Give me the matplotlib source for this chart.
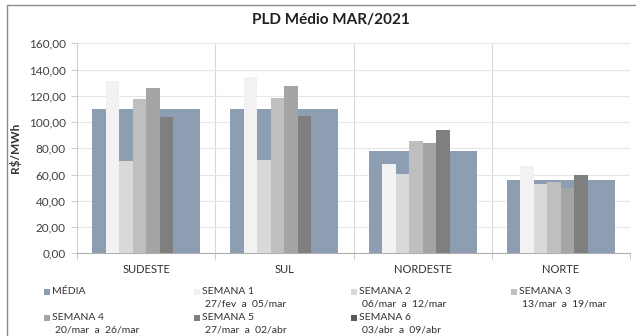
import numpy as np
import matplotlib
matplotlib.use("Agg")
import matplotlib.pyplot as plt
from matplotlib.patches import Rectangle

plt.rcParams['font.family'] = ['Lato', 'DejaVu Sans']

regions = ["SUDESTE", "SUL", "NORDESTE", "NORTE"]
media = [109.8, 110.0, 78.0, 55.5]
semana1 = [131.3, 134.1, 68.2, 66.5]
semana2 = [70.6, 70.9, 60.2, 52.6]
semana3 = [117.4, 118.4, 85.6, 54.3]
semana4 = [126.0, 127.3, 84.1, 50.0]
semana5 = [104.1, 104.6, 94.0, 59.4]
semana6 = [np.nan, np.nan, np.nan, np.nan]

weeks = [semana1, semana2, semana3, semana4, semana5, semana6]
week_names = ["SEMANA 1", "SEMANA 2", "SEMANA 3", "SEMANA 4", "SEMANA 5", "SEMANA 6"]
week_ranges = ["27/fev  a  05/mar", "06/mar  a  12/mar", "13/mar  a  19/mar",
               "20/mar  a  26/mar", "27/mar  a  02/abr", "03/abr  a  09/abr"]
yticks = [0, 20, 40, 60, 80, 100, 120, 140, 160]

media_color = "#8d9db2"
week_colors = ["#f2f2f2", "#d9d9d9", "#bfbfbf", "#a5a5a5", "#7f7f7f", "#595959"]

fig = plt.figure(figsize=(6.36, 3.36), dpi=100)
ax = fig.add_axes([77 / 636, 1 - 253.3 / 336, 553 / 636, 210 / 336])

x = np.arange(len(regions))
ax.bar(x, media, width=0.78, color=media_color, zorder=2)
bw = 0.0977
for k, (vals, col) in enumerate(zip(weeks, week_colors)):
    ax.bar(x + (k - 2.5) * bw, vals, width=bw, color=col, zorder=3)

ax.set_xlim(-0.5, len(regions) - 0.5)
ax.set_ylim(0, 160)
ax.set_yticks(yticks)
ax.set_yticklabels([f"{v:.2f}".replace(".", ",") for v in yticks],
                   fontsize=8.5, color="#404040")
ax.set_xticks(x)
ax.set_xticklabels(regions, fontsize=8, color="#303030")
ax.tick_params(axis='x', length=0, pad=8)
ax.tick_params(axis='y', length=4, color="#d0d0d0", pad=4)
ax.set_xticks(np.arange(-0.5, len(regions)), minor=True)
ax.tick_params(axis='x', which='minor', length=4, color="#c0c0c0")

ax.grid(axis='y', color="#e6e6e6", linewidth=0.8, zorder=0)
for b in np.arange(0.5, len(regions) + 0.5, 1.0):
    ax.axvline(b, color="#d9d9d9", linewidth=0.8, zorder=0)
for s in ["top", "right"]:
    ax.spines[s].set_visible(False)
ax.spines["left"].set_color("#d0d0d0")
ax.spines["bottom"].set_color("#b0b0b0")
ax.set_axisbelow(True)

ax.set_ylabel("R$/MWh", fontsize=8.5, fontweight="bold", color="#303030", labelpad=6)
fig.text(0.52, 1 - 20 / 336, "PLD Médio MAR/2021", ha="center", va="center",
         fontsize=11, fontweight="bold", color="#202020")

# outer chart frame
fig.patches.append(Rectangle((7 / 636, -0.1), 1.2, 1 - 5 / 336 + 0.1,
                             transform=fig.transFigure, fill=False,
                             edgecolor="#8c8c8c", linewidth=1.0))

# legend laid out in a 4-column grid
entries = [("MÉDIA", None, media_color)] + [
    (n, r, c) for n, r, c in zip(week_names, week_ranges, week_colors)]
col_x = [44, 194, 351, 511]
row_y = [292, 318]
for i, (name, rng, col) in enumerate(entries):
    cx = col_x[i % 4]
    cy = row_y[i // 4]
    fig.patches.append(Rectangle((cx / 636, 1 - (cy + 3) / 336), 6 / 636, 6 / 336,
                                 transform=fig.transFigure, facecolor=col,
                                 edgecolor="none"))
    fig.text((cx + 8) / 636, 1 - cy / 336, name, fontsize=7.5, color="#303030",
             va="center", ha="left")
    if rng:
        fig.text((cx + 11) / 636, 1 - (cy + 12) / 336, rng, fontsize=7.5,
                 color="#303030", va="center", ha="left")

fig.savefig("out.png", dpi=100, facecolor="white")
